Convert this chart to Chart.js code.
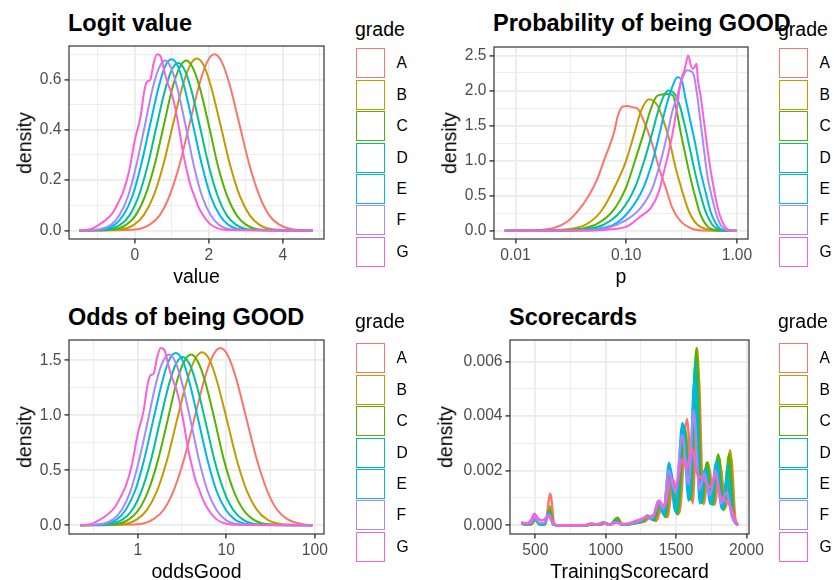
<!DOCTYPE html>
<html>
<head>
<meta charset="utf-8">
<script src="https://cdn.jsdelivr.net/npm/chart.js@4.4.0/dist/chart.umd.min.js"></script>
<style>
  body { margin: 0; background: #fff; }
  #page { position: relative; width: 834px; height: 580px; overflow: hidden; font-family: "Liberation Sans", Arial, sans-serif; color: #000; }
  #page canvas { position: absolute; }
  .txt { position: absolute; line-height: 1; white-space: nowrap; }
  .title { font-weight: bold; font-size: 23.5px; }
  .xlab { font-size: 19.5px; transform: translateX(-50%); }
  .ylab { font-size: 19.5px; transform: translate(-50%, -50%) rotate(-90deg); }
  .legTitle { font-size: 19.5px; }
  .key { position: absolute; box-sizing: border-box; width: 28.5px; height: 30px; border: 1.9px solid; }
  .keyLab { font-size: 15.6px; transform: translateY(-50%); }
</style>
</head>
<body>
<div id="page"></div>
<script>
const grades = ['A', 'B', 'C', 'D', 'E', 'F', 'G'];
const gradeColors = ['#F8766D', '#C49A00', '#53B400', '#00C094', '#00B6EB', '#A58AFF', '#FB61D7'];

// Logit value: [value, density]
const logitA = [[-1.5,0],[0.01,0.004],[0.41,0.024],[0.68,0.062],[0.94,0.139],[1.21,0.263],[1.48,0.425],[1.75,0.585],[1.95,0.669],[2.15,0.70],[2.35,0.669],[2.55,0.585],[2.82,0.425],[3.09,0.263],[3.36,0.139],[3.62,0.062],[3.89,0.024],[4.29,0.004],[4.8,0]];
const logitB = [[-1.5,0],[-0.41,0.004],[-0.02,0.023],[0.24,0.061],[0.5,0.135],[0.76,0.256],[1.02,0.415],[1.28,0.57],[1.48,0.653],[1.67,0.683],[1.87,0.653],[2.06,0.57],[2.32,0.415],[2.58,0.256],[2.84,0.135],[3.1,0.061],[3.36,0.023],[3.75,0.004],[4.8,0]];
const logitC = [[-1.5,0],[-0.6,0.004],[-0.23,0.023],[0.02,0.06],[0.27,0.134],[0.52,0.253],[0.77,0.41],[1.01,0.564],[1.2,0.645],[1.39,0.675],[1.57,0.645],[1.76,0.564],[2.01,0.41],[2.25,0.253],[2.5,0.134],[2.75,0.06],[3.0,0.023],[3.37,0.004],[4.8,0]];
const logitD = [[-1.5,0],[-0.75,0.004],[-0.39,0.023],[-0.15,0.059],[0.09,0.132],[0.33,0.249],[0.57,0.404],[0.81,0.555],[0.99,0.636],[1.17,0.665],[1.35,0.636],[1.53,0.555],[1.77,0.404],[2.01,0.249],[2.25,0.132],[2.49,0.059],[2.73,0.023],[3.09,0.004],[4.8,0]];
const logitE = [[-1.5,0],[-0.9,0.004],[-0.54,0.023],[-0.31,0.061],[-0.07,0.135],[0.16,0.255],[0.4,0.413],[0.64,0.568],[0.81,0.65],[0.99,0.68],[1.17,0.65],[1.34,0.568],[1.58,0.413],[1.82,0.255],[2.05,0.135],[2.29,0.061],[2.52,0.023],[2.88,0.004],[4.8,0]];
const logitF = [[-1.5,0],[-0.98,0.004],[-0.64,0.023],[-0.42,0.06],[-0.19,0.134],[0.03,0.253],[0.26,0.41],[0.48,0.564],[0.65,0.645],[0.82,0.675],[0.98,0.645],[1.15,0.564],[1.38,0.41],[1.6,0.253],[1.82,0.134],[2.05,0.06],[2.27,0.023],[2.61,0.004],[4.8,0]];
const logitG = [[-1.5,0],[-1.2,0.005],[-1.0,0.02],[-0.8,0.04],[-0.6,0.07],[-0.45,0.11],[-0.3,0.16],[-0.15,0.24],[0,0.36],[0.15,0.45],[0.25,0.55],[0.32,0.59],[0.42,0.60],[0.5,0.66],[0.6,0.70],[0.7,0.69],[0.8,0.63],[0.9,0.58],[1.0,0.54],[1.1,0.48],[1.2,0.40],[1.3,0.31],[1.4,0.24],[1.5,0.18],[1.6,0.14],[1.7,0.10],[1.8,0.07],[2.0,0.03],[2.2,0.01],[2.5,0.002],[4.8,0]];

// Probability of being GOOD: [p, density]
const probA = [[0.008,0],[0.016,0.01],[0.0226,0.042],[0.0297,0.136],[0.0366,0.278],[0.0466,0.515],[0.0553,0.75],[0.0626,0.99],[0.078,1.41],[0.0837,1.63],[0.093,1.77],[0.103,1.78],[0.115,1.76],[0.126,1.745],[0.145,1.555],[0.173,1.224],[0.198,0.894],[0.228,0.61],[0.261,0.326],[0.31,0.136],[0.395,0.028],[0.5,0.003],[1.0,0]];
const probB = [[0.008,0],[0.02,0.005],[0.0318,0.028],[0.0435,0.089],[0.0593,0.278],[0.078,0.61],[0.0994,0.99],[0.1197,1.41],[0.1355,1.7],[0.161,1.876],[0.191,1.79],[0.219,1.555],[0.243,1.32],[0.28,0.894],[0.321,0.562],[0.368,0.278],[0.438,0.089],[0.539,0.02],[0.65,0.002],[1.0,0]];
const probC = [[0.008,0],[0.025,0.002],[0.039,0.028],[0.0534,0.089],[0.0755,0.278],[0.0994,0.61],[0.1197,0.99],[0.145,1.41],[0.164,1.7],[0.185,1.9],[0.205,1.94],[0.24,1.95],[0.265,1.93],[0.285,1.72],[0.31,1.41],[0.343,1.08],[0.381,0.75],[0.423,0.47],[0.469,0.23],[0.539,0.066],[0.618,0.014],[0.7,0.002],[1.0,0]];
const probD = [[0.008,0],[0.03,0.002],[0.045,0.028],[0.0634,0.089],[0.0896,0.278],[0.1197,0.61],[0.145,0.99],[0.173,1.41],[0.194,1.7],[0.22,1.93],[0.243,2.0],[0.262,1.98],[0.28,1.93],[0.31,1.745],[0.343,1.46],[0.381,1.13],[0.423,0.8],[0.469,0.515],[0.52,0.278],[0.597,0.089],[0.662,0.028],[0.74,0.005],[1.0,0]];
const probE = [[0.008,0],[0.035,0.002],[0.0553,0.028],[0.078,0.089],[0.1064,0.278],[0.143,0.61],[0.173,0.99],[0.202,1.41],[0.223,1.7],[0.258,2.03],[0.29,2.19],[0.321,2.12],[0.343,1.89],[0.381,1.555],[0.423,1.22],[0.469,0.85],[0.52,0.56],[0.577,0.278],[0.64,0.113],[0.7,0.033],[0.78,0.005],[1.0,0]];
const probF = [[0.008,0],[0.04,0.002],[0.0634,0.028],[0.096,0.136],[0.1355,0.326],[0.173,0.61],[0.205,0.99],[0.238,1.41],[0.261,1.7],[0.29,1.93],[0.321,2.17],[0.356,2.29],[0.38,2.28],[0.408,2.22],[0.438,1.93],[0.469,1.555],[0.502,1.18],[0.539,0.8],[0.597,0.47],[0.653,0.231],[0.709,0.089],[0.77,0.028],[0.84,0.003],[1.0,0]];
const probG = [[0.008,0],[0.05,0.002],[0.0727,0.02],[0.103,0.066],[0.1355,0.207],[0.167,0.326],[0.198,0.562],[0.212,0.75],[0.235,1.035],[0.261,1.366],[0.29,1.79],[0.31,2.12],[0.336,2.29],[0.364,2.5],[0.385,2.35],[0.404,2.31],[0.432,2.38],[0.443,2.17],[0.469,1.93],[0.496,1.65],[0.527,1.32],[0.569,0.94],[0.618,0.61],[0.671,0.326],[0.734,0.136],[0.804,0.033],[0.873,0.005],[1.0,0]];

// Odds of being GOOD: [oddsGood, density]
const oddsA = [[0.226,0],[1.01,0.009],[1.507,0.055],[1.974,0.143],[2.56,0.32],[3.353,0.606],[4.393,0.979],[5.755,1.347],[7.029,1.54],[8.585,1.612],[10.49,1.54],[12.81,1.347],[16.78,0.979],[21.98,0.606],[28.79,0.32],[37.34,0.143],[48.91,0.055],[72.96,0.009],[94,0]];
const oddsB = [[0.226,0],[0.664,0.009],[0.98,0.053],[1.271,0.14],[1.649,0.311],[2.138,0.589],[2.773,0.956],[3.597,1.312],[4.393,1.504],[5.312,1.573],[6.488,1.504],[7.846,1.312],[10.18,0.956],[13.2,0.589],[17.12,0.311],[22.2,0.14],[28.79,0.053],[42.52,0.009],[94,0]];
const oddsC = [[0.226,0],[0.549,0.009],[0.795,0.053],[1.02,0.138],[1.31,0.309],[1.682,0.583],[2.16,0.944],[2.746,1.299],[3.32,1.485],[4.015,1.554],[4.807,1.485],[5.812,1.299],[7.463,0.944],[9.488,0.583],[12.18,0.309],[15.64,0.138],[20.09,0.053],[29.08,0.009],[94,0]];
const oddsD = [[0.226,0],[0.472,0.009],[0.677,0.053],[0.861,0.136],[1.094,0.304],[1.391,0.573],[1.768,0.93],[2.248,1.278],[2.691,1.464],[3.222,1.531],[3.857,1.464],[4.618,1.278],[5.871,0.93],[7.463,0.573],[9.488,0.304],[12.06,0.136],[15.33,0.053],[21.98,0.009],[94,0]];
const oddsE = [[0.226,0],[0.407,0.009],[0.583,0.053],[0.733,0.14],[0.932,0.311],[1.174,0.587],[1.492,0.951],[1.896,1.308],[2.248,1.497],[2.691,1.566],[3.222,1.497],[3.819,1.308],[4.855,0.951],[6.172,0.587],[7.768,0.311],[9.875,0.14],[12.43,0.053],[17.81,0.009],[94,0]];
const oddsF = [[0.226,0],[0.375,0.009],[0.527,0.053],[0.657,0.138],[0.827,0.309],[1.03,0.583],[1.297,0.944],[1.616,1.299],[1.916,1.485],[2.27,1.554],[2.664,1.485],[3.158,1.299],[3.975,0.944],[4.953,0.583],[6.172,0.309],[7.768,0.138],[9.679,0.053],[13.6,0.009],[94,0]];
const oddsG = [[0.226,0],[0.301,0.012],[0.368,0.046],[0.449,0.092],[0.549,0.161],[0.638,0.253],[0.741,0.368],[0.861,0.553],[1.0,0.829],[1.162,1.036],[1.284,1.266],[1.377,1.359],[1.522,1.382],[1.649,1.52],[1.822,1.612],[2.014,1.589],[2.226,1.451],[2.46,1.336],[2.718,1.243],[3.004,1.105],[3.32,0.921],[3.669,0.714],[4.055,0.553],[4.482,0.414],[4.953,0.322],[5.474,0.23],[6.05,0.161],[7.389,0.069],[9.025,0.023],[12.18,0.005],[94,0]];

// Scorecards: [TrainingScorecard, density]
const scoreA = [[400,0.00006],[430,0.00003],[472,0.00003],[502,0.0002],[535,0.00003],[570,0.00003],[606,0.00116],[636,0.00003],[670,0],[860,0],[920,0.00003],[960,0.00002],[1000,0.00006],[1040,0.00002],[1088,0.00022],[1122,0.00002],[1180,0.00004],[1230,0.00009],[1275,0.00013],[1318,0.00028],[1358,0.00015],[1403,0.0007],[1438,0.0003],[1478,0.0015],[1523,0.00045],[1578,0.0039],[1618,0.0008],[1656,0.0058],[1696,0.00078],[1733,0.0021],[1773,0.00075],[1813,0.0022],[1853,0.00065],[1890,0.0025],[1920,0.0003],[1940,0]];
const scoreB = [[400,0.00007],[430,0.00003],[470,0.00004],[500,0.0002],[532,0.00003],[567,0.00003],[603,0.0007],[632,0.00003],[667,0],[860,0],[915,0.00003],[955,0.00002],[995,0.00008],[1035,0.00002],[1084,0.00028],[1118,0.00002],[1175,0.00004],[1225,0.0001],[1270,0.00014],[1310,0.0003],[1350,0.00017],[1395,0.0008],[1430,0.0003],[1470,0.0017],[1515,0.0004],[1565,0.0035],[1610,0.0009],[1650,0.00648],[1688,0.0008],[1725,0.0023],[1765,0.00076],[1805,0.0025],[1845,0.0006],[1884,0.00275],[1915,0.0003],[1940,0]];
const scoreC = [[400,0.00008],[430,0.00003],[468,0.00005],[499,0.00025],[530,0.00003],[565,0.00003],[601,0.00055],[630,0.00003],[665,0],[860,0],[910,0.00004],[950,0.00002],[990,0.00008],[1030,0.00002],[1082,0.00027],[1115,0.00002],[1170,0.00004],[1220,0.0001],[1265,0.00015],[1305,0.00033],[1344,0.00018],[1389,0.00085],[1424,0.0003],[1464,0.0019],[1509,0.0004],[1559,0.0035],[1604,0.00095],[1644,0.0065],[1682,0.00082],[1719,0.0023],[1759,0.00076],[1799,0.0026],[1839,0.00056],[1876,0.0026],[1910,0.0003],[1940,0]];
const scoreD = [[400,0.0001],[430,0.00004],[465,0.00006],[497,0.00027],[527,0.00004],[562,0.00003],[599,0.0005],[627,0.00003],[662,0],[860,0],[905,0.00005],[945,0.00002],[985,0.0001],[1025,0.00002],[1078,0.00018],[1112,0.00002],[1165,0.00004],[1215,0.0001],[1260,0.00016],[1300,0.00035],[1337,0.0002],[1382,0.00088],[1417,0.00035],[1457,0.0021],[1502,0.00045],[1552,0.0037],[1597,0.00095],[1637,0.006],[1675,0.00082],[1712,0.0021],[1752,0.00078],[1792,0.0024],[1832,0.00058],[1869,0.0022],[1905,0.0003],[1940,0]];
const scoreE = [[400,0.0001],[430,0.00004],[465,0.00006],[495,0.00028],[525,0.00004],[560,0.00003],[598,0.00045],[625,0.00003],[660,0],[860,0],[900,0.00006],[940,0.00002],[980,0.0001],[1020,0.00002],[1075,0.00013],[1110,0.00002],[1160,0.00004],[1210,0.0001],[1255,0.00016],[1295,0.00036],[1330,0.0002],[1375,0.00088],[1410,0.0004],[1450,0.00228],[1495,0.0005],[1545,0.00375],[1590,0.0009],[1630,0.0053],[1668,0.0008],[1705,0.00205],[1745,0.00078],[1785,0.0023],[1825,0.0006],[1862,0.0017],[1900,0.0003],[1940,0]];
const scoreF = [[400,0.0001],[435,0.00008],[470,0.0001],[494,0.00032],[525,0.0001],[560,0.00008],[597,0.0004],[628,0.00005],[660,0],[860,0],[895,0.00007],[940,0.00003],[978,0.0001],[1025,0.00003],[1073,0.0001],[1115,0.00003],[1165,0.00006],[1210,0.00012],[1255,0.0002],[1295,0.00034],[1333,0.00028],[1373,0.0009],[1410,0.0006],[1448,0.002],[1495,0.0012],[1543,0.0033],[1588,0.0015],[1625,0.0042],[1665,0.0013],[1700,0.0019],[1740,0.0011],[1780,0.002],[1820,0.0008],[1858,0.0012],[1898,0.0003],[1940,0]];
const scoreG = [[400,0.00009],[440,0.00006],[470,0.0002],[493,0.00042],[520,0.00025],[541,0.00018],[565,0.00022],[588,0.00035],[624,0.0001],[659,0],[850,0],[886,0.00005],[930,0.00002],[981,0.00008],[1030,0.00003],[1076,0.0001],[1130,0.00005],[1193,0.00012],[1243,0.00022],[1290,0.0003],[1314,0.00033],[1345,0.0004],[1380,0.0009],[1410,0.0007],[1428,0.0008],[1460,0.0017],[1480,0.00168],[1500,0.0014],[1541,0.0024],[1576,0.0021],[1612,0.0028],[1648,0.0019],[1695,0.0017],[1743,0.0014],[1779,0.0018],[1814,0.0011],[1850,0.0009],[1886,0.0007],[1921,0.00015],[1940,0]];

// tick values and labels
const logitXMajor = [0, 2, 4], logitXMinor = [-1, 1, 3, 5], logitXLabels = ['0', '2', '4'];
const logitYMajor = [0, 0.2, 0.4, 0.6], logitYMinor = [0.1, 0.3, 0.5, 0.7], logitYLabels = ['0.0', '0.2', '0.4', '0.6'];
const probXMajor = [0.01, 0.1, 1], probXMinor = [0.0316, 0.316], probXLabels = ['0.01', '0.10', '1.00'];
const probYMajor = [0, 0.5, 1, 1.5, 2, 2.5], probYMinor = [0.25, 0.75, 1.25, 1.75, 2.25], probYLabels = ['0.0', '0.5', '1.0', '1.5', '2.0', '2.5'];
const oddsXMajor = [1, 10, 100], oddsXMinor = [0.316, 3.16, 31.6], oddsXLabels = ['1', '10', '100'];
const oddsYMajor = [0, 0.5, 1, 1.5], oddsYMinor = [0.25, 0.75, 1.25], oddsYLabels = ['0.0', '0.5', '1.0', '1.5'];
const scoreXMajor = [500, 1000, 1500, 2000], scoreXMinor = [750, 1250, 1750], scoreXLabels = ['500', '1000', '1500', '2000'];
const scoreYMajor = [0, 0.002, 0.004, 0.006], scoreYMinor = [0.001, 0.003, 0.005], scoreYLabels = ['0.000', '0.002', '0.004', '0.006'];

const FONT = "'Liberation Sans', Arial, sans-serif";
const page = document.getElementById('page');

const panelBorder = {
    id: 'panelBorder',
    afterDatasetsDraw(chart) {
        const { ctx, chartArea: a } = chart;
        ctx.save();
        ctx.strokeStyle = '#333333';
        ctx.lineWidth = 1.2;
        ctx.strokeRect(a.left, a.top, a.right - a.left, a.bottom - a.top);
        ctx.restore();
    },
};

function makeTicks(major, minor) {
    return major.map((v) => ({ value: v, minor: false }))
        .concat(minor.map((v) => ({ value: v, minor: true })))
        .sort((a, b) => a.value - b.value);
}

function axis(type, min, max, major, minor, labels, size, horizontal) {
    return {
        type, min, max,
        afterBuildTicks: (s) => { s.ticks = makeTicks(major, minor); },
        afterFit: (s) => {
            if (horizontal) s.height = size; else s.width = size;
            s.paddingLeft = s.paddingRight = s.paddingTop = s.paddingBottom = 0;
        },
        border: { display: false },
        grid: {
            color: '#EBEBEB',
            lineWidth: (c) => (c.tick && c.tick.minor ? 0.9 : 1.8),
            tickLength: 4.5,
            tickWidth: 1.4,
            tickColor: (c) => (c.tick && c.tick.minor ? 'rgba(0,0,0,0)' : '#333333'),
        },
        ticks: {
            autoSkip: false, maxRotation: 0, minRotation: 0, padding: 3,
            color: '#4D4D4D',
            font: { family: FONT, size: 15.6 },
            callback: (v) => { const i = major.indexOf(v); return i < 0 ? '' : labels[i]; },
        },
    };
}

function addText(cls, text, left, top) {
    const d = document.createElement('div');
    d.className = 'txt ' + cls;
    d.textContent = text;
    d.style.left = left + 'px';
    d.style.top = top + 'px';
    page.appendChild(d);
}

function panel(p) {
    const W = 62, T = 8, R = 24, H = 34;
    const cw = p.right - p.left + W + R, ch = p.bottom - p.top + T + H;
    const canvas = document.createElement('canvas');
    canvas.width = cw; canvas.height = ch;
    canvas.style.left = (p.left - W) + 'px';
    canvas.style.top = (p.top - T) + 'px';
    canvas.style.width = cw + 'px';
    canvas.style.height = ch + 'px';
    page.appendChild(canvas);

    new Chart(canvas, {
        type: 'line',
        data: {
            datasets: grades.map((g, i) => ({
                label: g,
                data: p.series[i],
                borderColor: gradeColors[i],
                borderWidth: p.lineWidth,
                pointRadius: 0,
                fill: false,
                cubicInterpolationMode: 'monotone',
                order: grades.length - i,
            })),
        },
        options: {
            responsive: false,
            animation: false,
            events: [],
            layout: { padding: { top: T, right: R, bottom: 0, left: 0 } },
            plugins: { legend: { display: false }, tooltip: { enabled: false } },
            scales: {
                x: axis(p.xType, p.xMin, p.xMax, p.xMajor, p.xMinor, p.xLabels, H, true),
                y: axis('linear', p.yMin, p.yMax, p.yMajor, p.yMinor, p.yLabels, W, false),
            },
        },
        plugins: [panelBorder],
    });

    // titles
    addText('title', p.title, p.left - 1, p.titleTop);
    addText('xlab', p.xTitle, (p.left + p.right) / 2, p.xTitleTop);
    addText('ylab', 'density', p.yTitleX, (p.top + p.bottom) / 2);

    // legend
    addText('legTitle', 'grade', p.legLeft - 1, p.legTitleTop);
    grades.forEach((g, i) => {
        const k = document.createElement('div');
        k.className = 'key';
        k.style.borderColor = gradeColors[i];
        k.style.left = p.legLeft + 'px';
        k.style.top = (p.keyTop + i * 31.4) + 'px';
        page.appendChild(k);
        addText('keyLab', g, p.legLeft + 40.5, p.keyTop + i * 31.4 + 15);
    });
}

panel({
    left: 69, right: 324, top: 46, bottom: 239, lineWidth: 2,
    series: [logitA, logitB, logitC, logitD, logitE, logitF, logitG],
    xType: 'linear', xMin: -1.78, xMax: 5.11, xMajor: logitXMajor, xMinor: logitXMinor, xLabels: logitXLabels,
    yMin: -0.034, yMax: 0.733, yMajor: logitYMajor, yMinor: logitYMinor, yLabels: logitYLabels,
    title: 'Logit value', titleTop: 12, xTitle: 'value', xTitleTop: 266.5, yTitleX: 24.5,
    legLeft: 356, legTitleTop: 19.5, keyTop: 48.3,
});

panel({
    left: 494, right: 748, top: 47, bottom: 239, lineWidth: 2,
    series: [probA, probB, probC, probD, probE, probF, probG],
    xType: 'logarithmic', xMin: 0.0064, xMax: 1.26, xMajor: probXMajor, xMinor: probXMinor, xLabels: probXLabels,
    yMin: -0.118, yMax: 2.62, yMajor: probYMajor, yMinor: probYMinor, yLabels: probYLabels,
    title: 'Probability of being GOOD', titleTop: 12, xTitle: 'p', xTitleTop: 266.5, yTitleX: 449.5,
    legLeft: 779, legTitleTop: 19.5, keyTop: 48.3,
});

panel({
    left: 69, right: 324, top: 340, bottom: 534, lineWidth: 2,
    series: [oddsA, oddsB, oddsC, oddsD, oddsE, oddsF, oddsG],
    xType: 'logarithmic', xMin: 0.1675, xMax: 127, xMajor: oddsXMajor, xMinor: oddsXMinor, xLabels: oddsXLabels,
    yMin: -0.08, yMax: 1.685, yMajor: oddsYMajor, yMinor: oddsYMinor, yLabels: oddsYLabels,
    title: 'Odds of being GOOD', titleTop: 305.6, xTitle: 'oddsGood', xTitleTop: 561.8, yTitleX: 24.5,
    legLeft: 356, legTitleTop: 311.5, keyTop: 343.3,
});

panel({
    left: 510, right: 749, top: 340, bottom: 534, lineWidth: 2.4,
    series: [scoreA, scoreB, scoreC, scoreD, scoreE, scoreF, scoreG],
    xType: 'linear', xMin: 320, xMax: 2018, xMajor: scoreXMajor, xMinor: scoreXMinor, xLabels: scoreXLabels,
    yMin: -0.00032, yMax: 0.00679, yMajor: scoreYMajor, yMinor: scoreYMinor, yLabels: scoreYLabels,
    title: 'Scorecards', titleTop: 305.6, xTitle: 'TrainingScorecard', xTitleTop: 561.8, yTitleX: 446,
    legLeft: 779, legTitleTop: 311.5, keyTop: 343.3,
});
</script>
</body>
</html>
